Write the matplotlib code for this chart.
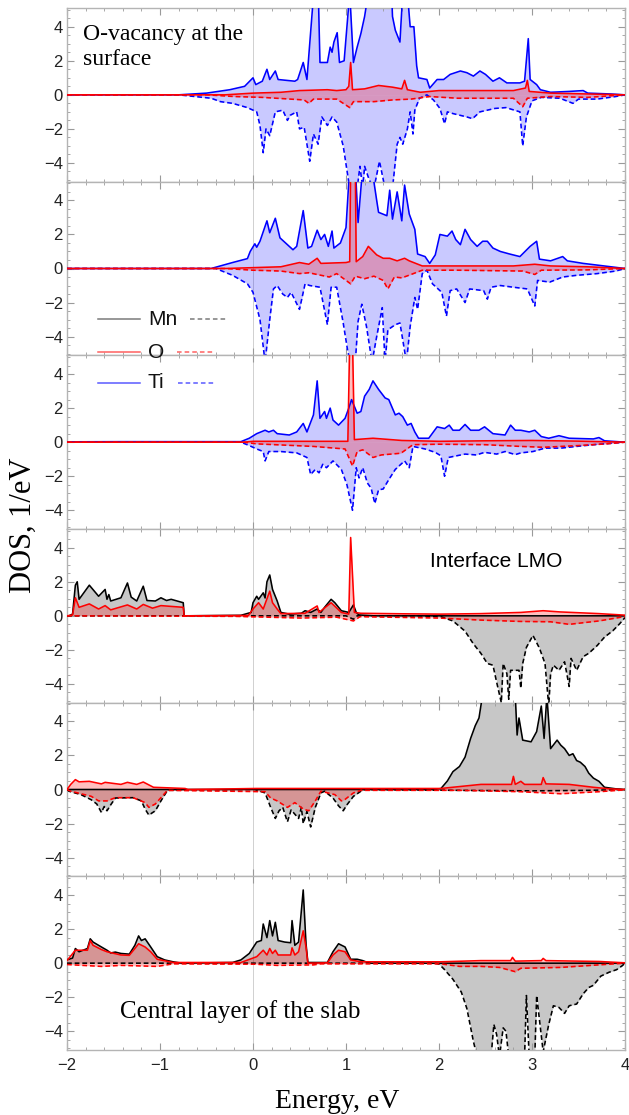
import numpy as np
import matplotlib
matplotlib.use("Agg")
import matplotlib.pyplot as plt
from matplotlib.lines import Line2D
from matplotlib.ticker import MultipleLocator

# ---- data: (energy eV, DOS 1/eV) ----
# panel 1: O-vacancy at the surface (Ti + O)
p1_ti_up = [(-2, 0), (-0.8, 0), (-0.5, 0.1), (-0.25, 0.3), (-0.09, 0.5), (0.0, 1.0), (0.03, 0.6), (0.1, 0.8),
            (0.15, 1.5), (0.18, 0.9), (0.24, 1.4), (0.27, 0.9), (0.45, 0.8), (0.48, 0.9), (0.54, 1.9), (0.58, 0.9),
            (0.66, 6.5), (0.70, 6.5), (0.72, 1.9), (0.8, 1.9), (0.83, 2.8), (0.85, 2.5), (0.87, 3.1), (0.905, 3.65),
            (0.93, 1.9), (0.98, 2.0), (1.04, 6.0), (1.08, 1.9), (1.12, 2.8), (1.16, 3.6), (1.2, 4.6), (1.24, 6.0),
            (1.49, 6.0), (1.50, 4.6), (1.53, 3.8), (1.58, 3.1), (1.61, 6.0), (1.66, 6.0), (1.69, 4.0), (1.73, 4.0),
            (1.76, 1.7), (1.78, 1.0), (1.87, 0.9), (1.9, 0.4), (1.98, 0.9), (2.05, 0.9), (2.12, 1.2), (2.23, 1.4),
            (2.3, 1.3), (2.37, 1.1), (2.44, 1.4), (2.5, 1.2), (2.58, 0.8), (2.65, 1.0), (2.73, 0.7), (2.87, 0.7),
            (2.92, 0.8), (2.96, 3.3), (2.98, 0.9), (3.05, 0.6), (3.09, 0.3), (3.2, 0.15), (3.4, 0.2), (3.55, 0.25),
            (3.6, 0.1), (3.85, 0.05), (4.0, 0)]
p1_ti_dn = [(-2, 0), (-0.8, 0), (-0.45, -0.2), (-0.35, -0.4), (-0.22, -0.5), (-0.06, -0.75), (0.04, -1.0),
            (0.075, -1.8), (0.11, -3.4), (0.14, -2.0), (0.18, -2.4), (0.24, -1.0), (0.32, -0.9), (0.37, -1.5),
            (0.4, -1.2), (0.47, -1.0), (0.5, -2.0), (0.55, -1.9), (0.61, -3.9), (0.65, -2.3), (0.7, -2.9),
            (0.74, -1.3), (0.8, -1.8), (0.85, -1.3), (0.9, -1.6), (0.97, -3.0), (1.04, -5.5), (1.12, -5.5),
            (1.15, -4.2), (1.18, -5.5), (1.2, -4.2), (1.25, -5.0), (1.3, -5.5), (1.36, -3.9), (1.42, -5.5),
            (1.5, -5.5), (1.55, -2.9), (1.58, -2.5), (1.61, -2.9), (1.66, -2.0), (1.69, -1.0), (1.72, -2.3),
            (1.74, -0.9), (1.79, -0.2), (1.87, 0.0), (1.94, -0.3), (2.01, -0.8), (2.06, -1.7), (2.09, -1.0),
            (2.15, -1.1), (2.3, -1.3), (2.36, -1.4), (2.44, -1.0), (2.6, -0.8), (2.72, -0.75), (2.87, -1.0),
            (2.9, -3.0), (2.94, -1.3), (3.0, -0.35), (3.1, -0.15), (3.3, -0.2), (3.44, -0.5), (3.5, -0.25),
            (3.7, -0.25), (3.9, -0.1), (4.0, 0)]
p1_o_up = [(-2, 0), (-0.3, 0), (0.0, 0.1), (0.3, 0.15), (0.5, 0.25), (0.8, 0.3), (0.9, 0.25), (1.0, 0.3),
           (1.03, 0.5), (1.05, 1.9), (1.07, 0.3), (1.2, 0.35), (1.35, 0.55), (1.5, 0.45), (1.6, 0.35), (1.63, 0.85),
           (1.66, 0.3), (1.8, 0.15), (2.0, 0.25), (2.3, 0.25), (2.8, 0.25), (2.93, 0.4), (2.95, 0.85), (2.97, 0.2),
           (3.2, 0.1), (3.6, 0.05), (4.0, 0)]
p1_o_dn = [(-2, 0), (-0.5, 0), (-0.2, -0.1), (0.1, -0.15), (0.55, -0.3), (0.6, -0.5), (0.65, -0.25), (0.9, -0.25),
           (1.04, -0.75), (1.08, -0.4), (1.3, -0.4), (1.5, -0.3), (1.7, -0.25), (1.9, -0.1), (2.2, -0.2),
           (2.8, -0.2), (2.9, -0.7), (2.95, -0.2), (3.2, -0.1), (3.6, -0.15), (4.0, 0)]

# panel 2
p2_ti_up = [(-2, 0), (-0.45, 0), (-0.22, 0.35), (-0.06, 0.58), (-0.03, 1.0), (0.02, 1.45), (0.04, 1.25),
            (0.075, 1.6), (0.15, 2.8), (0.18, 2.1), (0.24, 2.95), (0.29, 1.8), (0.43, 1.1), (0.47, 1.3),
            (0.54, 3.4), (0.59, 1.2), (0.63, 1.3), (0.69, 2.25), (0.73, 1.7), (0.77, 2.0), (0.81, 1.3),
            (0.85, 2.2), (0.87, 1.2), (0.94, 1.5), (1.0, 2.4), (1.04, 6.0), (1.1, 6.0), (1.13, 2.7), (1.18, 6.0),
            (1.28, 6.0), (1.3, 5.1), (1.33, 4.0), (1.35, 3.3), (1.44, 3.1), (1.47, 4.6), (1.5, 2.9), (1.55, 4.5),
            (1.6, 2.8), (1.63, 4.9), (1.68, 3.2), (1.74, 2.3), (1.77, 0.85), (1.85, 0.7), (1.9, 0.3), (1.96, 0.8),
            (2.01, 2.0), (2.09, 1.9), (2.14, 2.2), (2.18, 1.7), (2.23, 1.4), (2.28, 2.3), (2.34, 1.7), (2.41, 1.3),
            (2.47, 1.6), (2.52, 1.6), (2.58, 1.2), (2.66, 1.0), (2.76, 0.85), (2.87, 0.7), (2.98, 1.3), (3.05, 1.6),
            (3.08, 0.55), (3.2, 0.45), (3.33, 0.7), (3.38, 0.45), (3.55, 0.3), (3.7, 0.2), (3.85, 0.1), (4.0, 0)]
p2_ti_dn = [(-2, 0), (-0.4, 0), (-0.22, -0.4), (-0.06, -0.9), (0.0, -1.4), (0.075, -3.0), (0.13, -5.5),
            (0.18, -3.0), (0.22, -1.2), (0.26, -1.0), (0.32, -1.5), (0.37, -1.7), (0.41, -1.4), (0.5, -2.4),
            (0.56, -0.9), (0.61, -1.0), (0.72, -1.1), (0.8, -3.3), (0.84, -1.1), (0.9, -1.1), (0.97, -3.2),
            (1.02, -4.9), (1.05, -5.5), (1.1, -5.5), (1.13, -3.1), (1.17, -2.1), (1.22, -3.4), (1.28, -5.5),
            (1.33, -4.0), (1.39, -2.3), (1.42, -5.5), (1.45, -3.6), (1.53, -3.3), (1.58, -3.2), (1.65, -5.5),
            (1.69, -3.4), (1.74, -1.7), (1.77, -2.4), (1.82, -0.3), (1.87, -0.1), (1.93, -0.9), (2.03, -1.4),
            (2.08, -2.8), (2.12, -1.3), (2.19, -1.2), (2.28, -2.0), (2.33, -1.2), (2.48, -1.3), (2.52, -1.8),
            (2.56, -1.1), (2.66, -1.0), (2.8, -1.1), (2.95, -1.2), (3.03, -2.2), (3.06, -0.7), (3.19, -0.8),
            (3.33, -0.5), (3.48, -0.4), (3.7, -0.3), (3.9, -0.15), (4.0, 0)]
p2_o_up = [(-2, 0), (-0.3, 0), (0.0, 0.05), (0.3, 0.1), (0.5, 0.35), (0.6, 0.25), (0.69, 0.6), (0.73, 0.3),
           (1.0, 0.35), (1.04, 0.4), (1.05, 6.0), (1.1, 6.0), (1.11, 0.4), (1.18, 0.7), (1.24, 1.3), (1.33, 0.8),
           (1.4, 0.6), (1.47, 0.6), (1.55, 0.45), (1.63, 0.6), (1.68, 0.45), (1.82, 0.15), (2.2, 0.15),
           (2.8, 0.15), (3.03, 0.25), (3.2, 0.15), (3.6, 0.1), (4.0, 0)]
p2_o_dn = [(-2, 0), (-0.3, 0), (0.0, -0.1), (0.3, -0.15), (0.5, -0.3), (0.6, -0.25), (0.82, -0.5), (0.9, -0.3),
           (1.05, -0.9), (1.1, -0.45), (1.2, -0.6), (1.3, -0.45), (1.4, -0.7), (1.45, -1.2), (1.52, -0.5),
           (1.6, -0.55), (1.7, -0.35), (1.82, -0.1), (2.2, -0.1), (2.9, -0.15), (3.03, -0.35), (3.1, -0.1),
           (3.6, -0.08), (4.0, 0)]

# panel 3
p3_ti_up = [(-2, 0.02), (-1.4, 0.03), (-0.8, 0.03), (-0.13, 0.03), (-0.04, 0.23), (0.04, 0.5), (0.13, 0.7),
            (0.17, 0.6), (0.22, 0.7), (0.26, 0.5), (0.39, 0.42), (0.47, 0.6), (0.54, 1.1), (0.58, 0.6),
            (0.65, 1.6), (0.69, 3.6), (0.72, 1.4), (0.77, 1.8), (0.79, 1.4), (0.83, 2.0), (0.86, 1.3), (0.92, 1.0),
            (0.99, 1.4), (1.03, 2.0), (1.06, 2.5), (1.12, 1.7), (1.16, 1.8), (1.2, 2.7), (1.25, 3.1), (1.29, 3.6),
            (1.35, 3.1), (1.42, 2.6), (1.46, 2.5), (1.53, 1.6), (1.57, 1.7), (1.61, 1.5), (1.66, 1.0), (1.7, 1.1),
            (1.74, 0.6), (1.78, 0.23), (1.89, 0.23), (1.98, 0.9), (2.06, 0.8), (2.11, 1.0), (2.15, 0.7),
            (2.22, 0.7), (2.28, 1.04), (2.34, 0.7), (2.43, 0.7), (2.49, 0.9), (2.58, 0.5), (2.71, 0.42),
            (2.77, 1.0), (2.82, 0.7), (2.88, 0.7), (2.97, 0.6), (3.03, 0.7), (3.1, 0.33), (3.18, 0.23),
            (3.29, 0.38), (3.4, 0.23), (3.66, 0.19), (3.72, 0.27), (3.78, 0.08), (4.0, 0)]
p3_ti_dn = [(-2, 0), (-0.13, 0), (-0.04, -0.2), (0.04, -0.4), (0.11, -0.55), (0.13, -1.1), (0.17, -0.55),
            (0.3, -0.55), (0.47, -0.63), (0.58, -0.9), (0.62, -1.9), (0.67, -1.6), (0.71, -1.8), (0.75, -1.3),
            (0.79, -1.5), (0.86, -1.1), (0.95, -1.6), (1.01, -2.5), (1.07, -4.0), (1.11, -1.5), (1.14, -2.1),
            (1.18, -1.5), (1.23, -2.4), (1.27, -2.7), (1.31, -3.6), (1.35, -2.8), (1.4, -2.75), (1.46, -2.2),
            (1.53, -1.6), (1.59, -1.3), (1.63, -1.1), (1.68, -1.5), (1.72, -0.25), (1.85, -0.4), (1.96, -0.6),
            (2.02, -0.8), (2.06, -2.0), (2.1, -0.9), (2.19, -0.8), (2.28, -0.7), (2.4, -0.75), (2.49, -0.6),
            (2.62, -0.7), (2.71, -0.55), (2.82, -0.73), (2.88, -0.63), (3.01, -0.55), (3.14, -0.35), (3.31, -0.35),
            (3.48, -0.25), (3.66, -0.15), (4.0, 0)]
p3_o_up = [(-2, 0), (-0.1, 0), (0.0, 0.05), (0.5, 0.05), (1.02, 0.05), (1.04, 6.0), (1.07, 6.0), (1.09, 0.15),
           (1.29, 0.23), (1.6, 0.1), (2.0, 0.05), (2.5, 0.08), (3.0, 0.1), (3.5, 0.06), (4.0, 0)]
p3_o_dn = [(-2, 0), (-0.1, 0), (0.04, -0.1), (0.65, -0.25), (0.99, -0.4), (1.07, -1.4), (1.12, -0.55),
           (1.18, -0.45), (1.29, -0.9), (1.38, -0.75), (1.59, -0.65), (1.72, -0.15), (2.0, -0.12), (2.5, -0.15),
           (2.88, -0.25), (3.12, -0.3), (3.5, -0.2), (3.8, -0.1), (4.0, 0)]

# panel 4: interface LMO (Mn + O)
p4_mn_up = [(-2, 0), (-1.98, 0.0), (-1.94, 0.1), (-1.91, 1.8), (-1.89, 2.0), (-1.87, 0.97), (-1.76, 1.8),
            (-1.66, 1.15), (-1.59, 1.55), (-1.57, 0.97), (-1.55, 1.25), (-1.53, 0.87), (-1.42, 1.06),
            (-1.35, 1.93), (-1.31, 1.1), (-1.25, 0.87), (-1.18, 1.74), (-1.14, 0.9), (-1.05, 0.87), (-0.99, 1.06),
            (-0.93, 0.9), (-0.88, 0.97), (-0.75, 0.77), (-0.74, 0.0), (-0.13, 0.03), (-0.02, 0.2), (0.0, 0.77),
            (0.04, 1.15), (0.06, 0.97), (0.11, 1.35), (0.13, 1.05), (0.15, 2.0), (0.18, 2.4), (0.21, 1.55),
            (0.26, 0.87), (0.3, 0.2), (0.39, 0.1), (0.52, 0.15), (0.56, 0.3), (0.62, 0.2), (0.69, 0.4), (0.73, 0.2),
            (0.77, 0.5), (0.84, 0.97), (0.88, 0.77), (0.95, 0.3), (1.03, 0.2), (1.08, 0.64), (1.11, 0.2),
            (1.14, 0.05), (1.3, 0.0), (4.0, 0.0)]
p4_mn_dn = [(-2, 0), (1.0, 0), (1.08, -0.2), (1.12, 0), (1.8, 0), (2.02, -0.05), (2.15, -0.3), (2.28, -0.9),
            (2.37, -1.65), (2.45, -2.2), (2.52, -2.8), (2.58, -2.9), (2.62, -3.9), (2.67, -5.1), (2.69, -2.8),
            (2.73, -3.4), (2.75, -4.9), (2.77, -3.2), (2.86, -3.2), (2.88, -4.25), (2.9, -2.8), (2.94, -1.85),
            (3.01, -1.15), (3.08, -1.9), (3.14, -2.8), (3.18, -5.3), (3.2, -3.4), (3.23, -2.9), (3.29, -3.2),
            (3.35, -2.7), (3.4, -4.15), (3.42, -2.5), (3.48, -3.2), (3.55, -2.4), (3.61, -2.2), (3.7, -1.75),
            (3.78, -1.25), (3.87, -0.87), (3.94, -0.48), (4.0, -0.1)]
p4_o_up = [(-2, 0), (-1.94, 0.05), (-1.91, 1.06), (-1.87, 0.5), (-1.76, 0.7), (-1.66, 0.4), (-1.59, 0.6),
           (-1.53, 0.35), (-1.35, 0.64), (-1.25, 0.4), (-1.18, 0.67), (-1.08, 0.45), (-0.99, 0.6), (-0.75, 0.5),
           (-0.74, 0.0), (-0.05, 0.02), (0.0, 0.4), (0.06, 0.77), (0.11, 0.4), (0.18, 1.45), (0.21, 0.77),
           (0.26, 0.4), (0.3, 0.13), (0.56, 0.15), (0.69, 0.58), (0.71, 0.2), (0.84, 0.77), (0.95, 0.2),
           (1.03, 0.1), (1.05, 4.6), (1.09, 0.2), (1.16, 0.15), (1.6, 0.12), (2.02, 0.1), (2.45, 0.13),
           (2.88, 0.2), (3.12, 0.3), (3.3, 0.23), (3.72, 0.13), (4.0, 0.04)]
p4_o_dn = [(-2, 0), (-0.2, -0.03), (0.52, -0.13), (0.9, -0.08), (1.08, -0.3), (1.15, -0.05), (2.0, -0.13),
           (2.45, -0.25), (2.88, -0.33), (3.2, -0.35), (3.4, -0.5), (3.72, -0.3), (4.0, -0.04)]

# panel 5
p5_mn_up = [(-2, 0), (1.9, 0), (2.02, 0.05), (2.09, 0.5), (2.15, 1.05), (2.22, 1.35), (2.28, 1.9), (2.34, 3.0),
            (2.39, 3.75), (2.43, 4.2), (2.47, 5.6), (2.6, 6.0), (2.75, 5.8), (2.82, 5.5), (2.84, 3.2), (2.86, 4.2),
            (2.9, 2.9), (2.99, 2.8), (3.05, 3.4), (3.1, 4.9), (3.13, 3.0), (3.16, 5.5), (3.2, 2.4), (3.27, 2.9),
            (3.31, 2.6), (3.35, 2.4), (3.4, 2.0), (3.44, 2.1), (3.48, 1.7), (3.52, 1.6), (3.57, 1.35), (3.61, 0.96),
            (3.66, 0.67), (3.72, 0.48), (3.78, 0.13), (3.9, 0.04), (4.0, 0)]
p5_mn_dn = [(-2, 0), (-1.98, -0.1), (-1.85, -0.3), (-1.74, -0.6), (-1.68, -0.85), (-1.63, -1.35), (-1.6, -1.0),
            (-1.57, -1.25), (-1.53, -0.9), (-1.48, -0.5), (-1.29, -0.48), (-1.2, -0.67), (-1.16, -1.15),
            (-1.12, -1.5), (-1.05, -1.25), (-0.99, -0.67), (-0.92, -0.05), (0.02, 0), (0.13, -0.2), (0.19, -1.05),
            (0.24, -1.7), (0.28, -1.25), (0.32, -1.05), (0.37, -1.9), (0.41, -1.2), (0.45, -1.45), (0.49, -1.7),
            (0.52, -1.05), (0.54, -2.0), (0.58, -1.3), (0.62, -2.2), (0.67, -1.05), (0.73, -0.2), (0.77, -0.1),
            (0.86, -0.5), (0.92, -0.96), (0.97, -1.25), (1.01, -0.9), (1.08, -0.4), (1.16, -0.1), (1.2, 0),
            (2.2, -0.05), (3.0, -0.08), (3.6, -0.05), (4.0, 0)]
p5_o_up = [(-2, 0), (-1.96, 0.3), (-1.91, 0.58), (-1.87, 0.45), (-1.76, 0.48), (-1.63, 0.33), (-1.59, 0.42),
           (-1.42, 0.3), (-1.35, 0.42), (-1.25, 0.3), (-1.18, 0.44), (-1.07, 0.13), (-0.73, 0.06), (-0.7, 0),
           (0.04, 0.06), (0.56, 0.06), (2.02, 0.06), (2.45, 0.3), (2.78, 0.3), (2.8, 0.77), (2.82, 0.3),
           (2.88, 0.48), (2.92, 0.3), (3.1, 0.3), (3.12, 0.7), (3.15, 0.33), (3.4, 0.3), (3.66, 0.13), (3.83, 0.04),
           (4.0, 0)]
p5_o_dn = [(-2, 0), (-1.96, -0.1), (-1.74, -0.4), (-1.66, -0.67), (-1.57, -0.67), (-1.48, -0.48),
           (-1.29, -0.48), (-1.16, -0.77), (-1.12, -1.05), (-1.05, -0.85), (-0.99, -0.48), (-0.92, -0.05),
           (0.13, -0.13), (0.19, -0.5), (0.26, -0.67), (0.37, -1.05), (0.45, -0.77), (0.54, -1.15), (0.6, -1.25),
           (0.67, -0.67), (0.73, -0.1), (0.88, -0.3), (0.95, -0.67), (0.99, -0.58), (1.08, -0.2), (1.16, -0.05),
           (2.22, -0.05), (2.88, -0.13), (3.31, -0.25), (3.72, -0.13), (4.0, -0.02)]

# panel 6: central layer of the slab
p6_mn_up = [(-2, 0.2), (-1.98, 0.23), (-1.94, 0.3), (-1.91, 0.86), (-1.87, 0.67), (-1.78, 0.86), (-1.75, 1.43),
            (-1.72, 1.24), (-1.63, 0.95), (-1.57, 0.76), (-1.53, 0.6), (-1.48, 0.65), (-1.42, 0.57),
            (-1.33, 0.53), (-1.27, 1.05), (-1.23, 1.6), (-1.2, 1.33), (-1.16, 1.43), (-1.1, 0.95), (-1.03, 0.38),
            (-0.95, 0.19), (-0.86, 0.08), (-0.77, 0), (-0.22, 0.04), (-0.13, 0.19), (-0.04, 0.57), (0.04, 1.24),
            (0.09, 1.33), (0.11, 2.3), (0.15, 1.5), (0.18, 2.5), (0.21, 1.6), (0.24, 2.4), (0.27, 1.33),
            (0.34, 1.24), (0.405, 1.2), (0.42, 2.5), (0.45, 1.05), (0.49, 1.24), (0.54, 4.3), (0.57, 1.14),
            (0.59, 0.04), (0.8, 0.04), (0.86, 0.67), (0.92, 1.14), (0.99, 0.95), (1.05, 0.23), (1.12, 0.23),
            (1.18, 0.15), (1.25, 0), (4.0, 0)]
p6_mn_dn = [(-2, 0), (1.95, 0), (2.0, -0.05), (2.06, -0.38), (2.15, -0.95), (2.24, -1.7), (2.3, -2.67),
            (2.37, -4.6), (2.41, -5.5), (2.56, -5.5), (2.59, -3.6), (2.62, -4.2), (2.65, -5.5), (2.69, -3.8),
            (2.72, -4.0), (2.75, -5.5), (2.92, -5.5), (2.94, -1.9), (2.97, -5.5), (3.03, -5.5), (3.05, -1.9),
            (3.12, -5.2), (3.18, -3.6), (3.23, -2.5), (3.29, -2.6), (3.35, -2.95), (3.4, -2.5), (3.48, -2.4),
            (3.55, -1.8), (3.61, -1.43), (3.66, -1.3), (3.74, -0.76), (3.83, -0.53), (3.91, -0.38), (3.97, -0.15),
            (4.0, 0)]
p6_o_up = [(-2, 0.15), (-1.91, 0.76), (-1.78, 0.76), (-1.75, 1.33), (-1.72, 1.05), (-1.63, 0.8), (-1.57, 0.67),
           (-1.42, 0.48), (-1.33, 0.46), (-1.27, 0.86), (-1.23, 1.14), (-1.16, 0.95), (-1.1, 0.67), (-1.03, 0.23),
           (-0.86, 0.04), (-0.13, 0.04), (0.04, 0.38), (0.11, 0.76), (0.15, 0.48), (0.18, 0.86), (0.21, 0.57),
           (0.24, 0.76), (0.27, 0.48), (0.405, 0.48), (0.42, 0.9), (0.45, 0.48), (0.49, 0.67), (0.54, 1.9),
           (0.57, 0.95), (0.59, 0.0), (0.8, 0.02), (0.86, 0.48), (0.92, 0.76), (0.99, 0.67), (1.05, 0.19),
           (1.16, 0.08), (2.02, 0.08), (2.45, 0.15), (2.77, 0.15), (2.79, 0.34), (2.82, 0.12), (3.1, 0.15),
           (3.12, 0.28), (3.15, 0.15), (3.72, 0.1), (4.0, 0.02)]
p6_o_dn = [(-2, -0.08), (-1.63, -0.19), (-1.42, -0.13), (-1.03, -0.19), (-0.86, -0.04), (0.02, -0.06),
           (0.26, -0.13), (0.65, -0.1), (0.73, -0.04), (2.02, -0.04), (2.22, -0.19), (2.45, -0.19), (2.65, -0.25),
           (2.82, -0.5), (2.88, -0.3), (3.31, -0.25), (3.72, -0.1), (4.0, 0)]

panels = [
    ("Ti", p1_ti_up, p1_ti_dn, p1_o_up, p1_o_dn),
    ("Ti", p2_ti_up, p2_ti_dn, p2_o_up, p2_o_dn),
    ("Ti", p3_ti_up, p3_ti_dn, p3_o_up, p3_o_dn),
    ("Mn", p4_mn_up, p4_mn_dn, p4_o_up, p4_o_dn),
    ("Mn", p5_mn_up, p5_mn_dn, p5_o_up, p5_o_dn),
    ("Mn", p6_mn_up, p6_mn_dn, p6_o_up, p6_o_dn),
]

line_col = {"Ti": "#0000ff", "Mn": "#000000", "O": "#ff0000"}
fill_col = {"Ti": (0.0, 0.0, 1.0, 0.21), "Mn": (0.0, 0.0, 0.0, 0.22), "O": (1.0, 0.0, 0.0, 0.25)}

serif = ["Liberation Serif", "DejaVu Serif"]
sans = ["Liberation Sans", "DejaVu Sans"]
plt.rcParams["font.family"] = sans

W, H = 629, 1115
fig = plt.figure(figsize=(W / 100, H / 100), dpi=100)
axes = fig.subplots(6, 1, sharex=True)
fig.subplots_adjust(left=67 / W, right=625 / W, top=1 - 8 / H, bottom=1 - 1050 / H, hspace=0)


def draw(ax, up, dn, elem):
    for data in (up, dn):
        e, d = np.array(data, dtype=float).T
        ax.fill_between(e, d, 0, color=fill_col[elem], lw=0, zorder=1)


def lines(ax, up, dn, elem):
    for data, ls in ((up, "-"), (dn, (0, (3, 1.8)))):
        e, d = np.array(data, dtype=float).T
        ax.plot(e, d, color=line_col[elem], ls=ls, lw=1.15, zorder=3)


for ax, (elem, m_up, m_dn, o_up, o_dn) in zip(axes, panels):
    ax.axvline(0, color="#d0d0d0", lw=0.7, zorder=0)
    draw(ax, m_up, m_dn, elem)
    draw(ax, o_up, o_dn, "O")
    lines(ax, m_up, m_dn, elem)
    lines(ax, o_up, o_dn, "O")
    ax.set_xlim(-2, 4)
    ax.set_ylim(-5.1, 5.1)
    ax.set_yticks([-4, -2, 0, 2, 4])
    ax.yaxis.set_minor_locator(MultipleLocator(0.5))
    ax.xaxis.set_major_locator(MultipleLocator(1))
    ax.xaxis.set_minor_locator(MultipleLocator(0.2))
    ax.tick_params(which="both", direction="in", top=True, right=True, color="#9a9a9a",
                   labelsize=12, labelcolor="#222222", pad=3)
    ax.tick_params(which="major", length=5, width=0.8)
    ax.tick_params(which="minor", length=2.5, width=0.6)
    for s in ax.spines.values():
        s.set_color("#b4b4b4")
        s.set_linewidth(1.0)

axes[-1].set_xticks([-2, -1, 0, 1, 2, 3, 4])
axes[-1].tick_params(axis="x", pad=6)

# panel captions
axes[0].text(0.029, 0.905, "O-vacancy at the\nsurface", transform=axes[0].transAxes, family=serif,
             fontsize=17, va="top", ha="left", linespacing=1.2)
axes[3].text(0.65, 0.87, "Interface LMO", transform=axes[3].transAxes, fontsize=15, va="top", ha="left")
axes[5].text(0.095, 0.185, "Central layer of the slab", transform=axes[5].transAxes, family=serif,
             fontsize=18, va="baseline", ha="left")

# legend drawn in figure pixels
legend_rows = [("Mn", "#7a7a7a", 319, 228), ("O", "#ff6060", 352, 215), ("Ti", "#5a5aff", 383, 216)]
for name, col, y, xend in legend_rows:
    fy = 1 - y / H
    fig.add_artist(Line2D([98 / W, 140 / W], [fy, fy], color=col, lw=1.1, transform=fig.transFigure))
    fig.add_artist(Line2D([(xend - 38) / W, xend / W], [fy, fy], color=col, lw=1.1, ls=(0, (3, 2)),
                          transform=fig.transFigure))
    fig.text(148 / W, fy, name, fontsize=15, va="center", ha="left", color="#111111")

fig.text(23 / W, 1 - 525 / H, "DOS, 1/eV", family=serif, fontsize=22, rotation=90, va="center", ha="center")
fig.text(337 / W, 1 - 1108 / H, "Energy, eV", family=serif, fontsize=20, va="baseline", ha="center")

fig.savefig("out.png", dpi=100)
